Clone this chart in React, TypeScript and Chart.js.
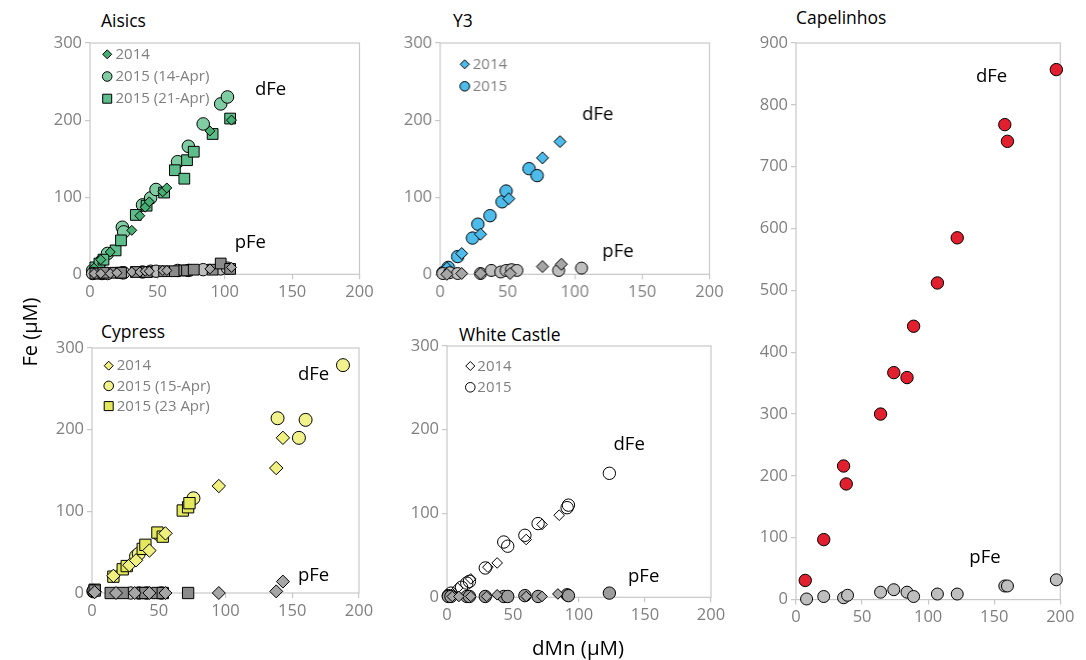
import React, { useEffect, useRef } from "react";
import { Chart, registerables } from "chart.js";
Chart.register(...registerables);

type Pt = [number, number];

// ---------- Aisics ----------
const aisicsDFe2014: Pt[] = [[3, 8], [8, 19], [15, 29], [31, 57], [37, 76], [41, 87], [44, 94], [54, 107], [57, 112], [89, 186], [105, 200]];
const aisicsDFe2015a: Pt[] = [[2, 5], [9, 18], [13, 27], [24, 61], [25, 55], [39, 90], [45, 99], [49, 110], [65, 146], [73, 166], [84, 195], [97, 221], [102, 230]];
const aisicsDFe2015b: Pt[] = [[4, 9], [7, 14], [10, 19], [19, 31], [23, 44], [34, 77], [42, 89], [55, 106], [63, 135], [70, 124], [72, 148], [77, 159], [91, 182], [104, 202]];
const aisicsPFe2014: Pt[] = [[3, 1], [8, 1], [15, 1], [20, 2], [31, 3], [37, 3], [41, 4], [44, 4], [54, 5], [57, 5], [89, 7], [105, 9]];
const aisicsPFe2015a: Pt[] = [[2, 1], [9, 1], [13, 1], [24, 2], [25, 2], [39, 3], [45, 4], [49, 4], [65, 5], [73, 5], [84, 6], [97, 7], [102, 8]];
const aisicsPFe2015b: Pt[] = [[4, 1], [7, 1], [10, 2], [19, 2], [23, 2], [34, 3], [42, 3], [55, 4], [63, 4], [70, 5], [72, 5], [77, 6], [91, 6], [97, 14], [104, 7]];

// ---------- Y3 ----------
const y3DFe2014: Pt[] = [[3, 3], [5, 8], [16, 27], [30, 52], [51, 98], [76, 151], [89, 172]];
const y3DFe2015: Pt[] = [[2, 2], [6, 9], [13, 23], [24, 47], [28, 65], [37, 76], [46, 94], [49, 108], [66, 137], [72, 128]];
const y3PFe2014: Pt[] = [[5, 0], [16, 1], [30, 1], [52, 1], [76, 10], [90, 13]];
const y3PFe2015: Pt[] = [[2, 1], [7, 2], [13, 1], [30, 1], [38, 5], [45, 3], [49, 5], [53, 6], [57, 5], [88, 5], [105, 8]];

// ---------- Capelinhos ----------
const capDFe: Pt[] = [[7, 31], [21, 97], [36, 216], [38, 187], [64, 300], [74, 367], [84, 359], [89, 442], [107, 512], [122, 585], [158, 768], [160, 741], [197, 857]];
const capPFe: Pt[] = [[8, 1], [21, 5], [36, 3], [39, 7], [64, 12], [74, 16], [84, 12], [89, 5], [107, 9], [122, 9], [158, 22], [160, 22], [197, 32]];

// ---------- Cypress ----------
const cypDFe2014: Pt[] = [[2, 2], [16, 21], [28, 34], [33, 40], [43, 52], [55, 73], [95, 131], [138, 153], [143, 190]];
const cypDFe2015a: Pt[] = [[1, 2], [33, 45], [35, 48], [50, 72], [76, 116], [139, 214], [155, 190], [160, 212], [188, 279]];
const cypDFe2015b: Pt[] = [[2, 4], [16, 20], [23, 29], [26, 33], [38, 54], [40, 59], [49, 74], [53, 69], [68, 101], [72, 105], [73, 110]];
const cypPFe2014: Pt[] = [[2, 1], [18, 0], [32, 0], [43, 0], [55, 0], [95, 0], [138, 2], [143, 14]];
const cypPFe2015a: Pt[] = [[1, 3], [29, 0], [35, 0], [41, 0], [52, 0]];
const cypPFe2015b: Pt[] = [[2, 3], [14, 0], [23, 0], [38, 0], [40, 0], [49, 0], [53, 0], [72, 0]];

// ---------- White Castle ----------
const wcDFe2014: Pt[] = [[4, 4], [8, 11], [18, 22], [31, 36], [38, 41], [60, 69], [72, 87], [85, 98]];
const wcDFe2015: Pt[] = [[1, 2], [3, 5], [11, 12], [15, 17], [17, 19], [29, 35], [43, 66], [46, 61], [59, 74], [69, 88], [91, 107], [92, 110], [123, 148]];
const wcPFe2014: Pt[] = [[4, 1], [9, 1], [18, 1], [30, 1], [38, 3], [60, 1], [72, 1], [84, 4]];
const wcPFe2015: Pt[] = [[1, 1], [3, 1], [15, 1], [17, 1], [29, 1], [43, 1], [46, 1], [59, 2], [69, 1], [91, 3], [92, 2], [123, 5]];

const xTicksMax = 200;
const xTickStep = 50;

const FONT = '"Open Sans", "Noto Sans", "DejaVu Sans", sans-serif';
const TICK_COLOR = "#7F7F7F";
const FRAME = "#C8C8C8";

type Shape = "circle" | "rectRot" | "rect";
interface Series { data: Pt[]; shape: Shape; r: number; fill: string }
interface LegendItem { label: string; shape: Shape; r: number; fill: string }
interface Note { text: string; x: number; y: number }
interface PanelCfg {
  title: string; titleX: number; titleY: number;
  L: number; R: number; T: number; B: number;
  yMax: number; yStep: number;
  series: Series[]; notes: Note[];
  legend: LegendItem[]; legX: number; legY: number; legDy: number; legTextX: number;
}

const G_AIS_C = "#80CCA3", G_AIS_S = "#5DBD8B", G_AIS_D = "#45AF74";
const BLUE = "#4DBCEB";
const YEL_C = "#F1F28C", YEL_S = "#E3E85C", YEL_D = "#EFF07E";
const RED = "#E21F2E";
const GR_L = "#BEBEBE", GR_M = "#A6A6A6", GR_D = "#8A8A8A";

const panels: PanelCfg[] = [
  {
    title: "Aisics", titleX: 101, titleY: 20, L: 89.5, R: 359, T: 42.7, B: 274, yMax: 300, yStep: 100,
    series: [
      { data: aisicsPFe2014, shape: "rectRot", r: 5, fill: GR_M },
      { data: aisicsPFe2015b, shape: "rect", r: 7.6, fill: GR_D },
      { data: aisicsPFe2015a, shape: "circle", r: 6.2, fill: GR_L },
      { data: aisicsDFe2014, shape: "rectRot", r: 5, fill: G_AIS_D },
      { data: aisicsDFe2015b, shape: "rect", r: 7.6, fill: G_AIS_S },
      { data: aisicsDFe2015a, shape: "circle", r: 6.3, fill: G_AIS_C },
    ],
    notes: [{ text: "dFe", x: 134, y: 240 }, { text: "pFe", x: 119, y: 41 }],
    legend: [
      { label: "2014", shape: "rectRot", r: 4.5, fill: G_AIS_D },
      { label: "2015 (14-Apr)", shape: "circle", r: 4.8, fill: G_AIS_C },
      { label: "2015 (21-Apr)", shape: "rect", r: 4.5, fill: G_AIS_S },
    ],
    legX: 106.7, legY: 54, legDy: 22.2, legTextX: 115,
  },
  {
    title: "Y3", titleX: 453, titleY: 20, L: 440, R: 708.5, T: 42.7, B: 274, yMax: 300, yStep: 100,
    series: [
      { data: y3PFe2014, shape: "rectRot", r: 6, fill: GR_M },
      { data: y3PFe2015, shape: "circle", r: 6, fill: GR_L },
      { data: y3DFe2014, shape: "rectRot", r: 6, fill: BLUE },
      { data: y3DFe2015, shape: "circle", r: 6.2, fill: BLUE },
    ],
    notes: [{ text: "dFe", x: 117, y: 207 }, { text: "pFe", x: 132, y: 29 }],
    legend: [
      { label: "2014", shape: "rectRot", r: 4.5, fill: BLUE },
      { label: "2015", shape: "circle", r: 4.8, fill: BLUE },
    ],
    legX: 464.5, legY: 64, legDy: 22, legTextX: 472.5,
  },
  {
    title: "Capelinhos", titleX: 796, titleY: 17, L: 795.7, R: 1060, T: 42.7, B: 599.3, yMax: 900, yStep: 100,
    series: [
      { data: capPFe, shape: "circle", r: 6, fill: GR_L },
      { data: capDFe, shape: "circle", r: 6.2, fill: RED },
    ],
    notes: [{ text: "dFe", x: 148, y: 846 }, { text: "pFe", x: 143, y: 67 }],
    legend: [],
    legX: 0, legY: 0, legDy: 0, legTextX: 0,
  },
  {
    title: "Cypress", titleX: 101, titleY: 331, L: 92.3, R: 359.3, T: 348.3, B: 593.3, yMax: 300, yStep: 100,
    series: [
      { data: cypPFe2014, shape: "rectRot", r: 6.5, fill: GR_M },
      { data: cypPFe2015b, shape: "rect", r: 8, fill: GR_D },
      { data: cypPFe2015a, shape: "circle", r: 6.2, fill: GR_L },
      { data: cypDFe2014, shape: "rectRot", r: 6.7, fill: YEL_D },
      { data: cypDFe2015b, shape: "rect", r: 8, fill: YEL_S },
      { data: cypDFe2015a, shape: "circle", r: 6.5, fill: YEL_C },
    ],
    notes: [{ text: "dFe", x: 166, y: 267 }, { text: "pFe", x: 166, y: 21.5 }],
    legend: [
      { label: "2014", shape: "rectRot", r: 4.5, fill: YEL_D },
      { label: "2015 (15-Apr)", shape: "circle", r: 4.8, fill: YEL_C },
      { label: "2015 (23 Apr)", shape: "rect", r: 4.5, fill: YEL_S },
    ],
    legX: 109, legY: 366, legDy: 20.2, legTextX: 117,
  },
  {
    title: "White Castle", titleX: 459, titleY: 334, L: 446.7, R: 710.7, T: 346, B: 597.3, yMax: 300, yStep: 100,
    series: [
      { data: wcPFe2014, shape: "rectRot", r: 5.3, fill: GR_M },
      { data: wcPFe2015, shape: "circle", r: 6.2, fill: "#9C9C9C" },
      { data: wcDFe2014, shape: "rectRot", r: 5.3, fill: "rgba(255,255,255,0)" },
      { data: wcDFe2015, shape: "circle", r: 6.2, fill: "rgba(255,255,255,0)" },
    ],
    notes: [{ text: "dFe", x: 138, y: 182 }, { text: "pFe", x: 149, y: 24.6 }],
    legend: [
      { label: "2014", shape: "rectRot", r: 4.5, fill: "#FFFFFF" },
      { label: "2015", shape: "circle", r: 4.8, fill: "#FFFFFF" },
    ],
    legX: 470, legY: 366, legDy: 21.3, legTextX: 477,
  },
];

const YW = 60, PT = 14, PR = 26, XH = 40;

function drawShape(ctx: CanvasRenderingContext2D, shape: Shape, x: number, y: number, r: number, fill: string) {
  ctx.beginPath();
  if (shape === "circle") ctx.arc(x, y, r, 0, Math.PI * 2);
  else if (shape === "rectRot") {
    ctx.moveTo(x - r, y); ctx.lineTo(x, y - r); ctx.lineTo(x + r, y); ctx.lineTo(x, y + r); ctx.closePath();
  } else ctx.rect(x - r, y - r, 2 * r, 2 * r);
  ctx.fillStyle = fill; ctx.fill();
  ctx.lineWidth = 1; ctx.strokeStyle = "#000"; ctx.stroke();
}

function Panel({ cfg }: { cfg: PanelCfg }) {
  const ref = useRef<HTMLCanvasElement>(null);
  const left = cfg.L - YW, top = cfg.T - PT;
  const width = cfg.R - cfg.L + YW + PR, height = cfg.B - cfg.T + PT + XH;
  useEffect(() => {
    const deco = {
      id: "deco",
      beforeDatasetsDraw(chart: any) {
        const { ctx, chartArea: a } = chart;
        ctx.save();
        ctx.strokeStyle = FRAME; ctx.lineWidth = 1.2;
        ctx.strokeRect(a.left, a.top, a.right - a.left, a.bottom - a.top);
        ctx.restore();
      },
      afterDatasetsDraw(chart: any) {
        const ctx: CanvasRenderingContext2D = chart.ctx;
        const xs = chart.scales.x, ys = chart.scales.y;
        ctx.save();
        ctx.font = `18.5px ${FONT}`; ctx.fillStyle = "#000"; ctx.textAlign = "center"; ctx.textBaseline = "middle";
        cfg.notes.forEach((n) => ctx.fillText(n.text, xs.getPixelForValue(n.x), ys.getPixelForValue(n.y)));
        ctx.font = `15px ${FONT}`; ctx.textAlign = "left";
        cfg.legend.forEach((it, i) => {
          const x = cfg.legX - left, y = cfg.legY - top + i * cfg.legDy;
          drawShape(ctx, it.shape, x, y, it.r, it.fill);
          ctx.fillStyle = "#7F7F7F";
          ctx.fillText(it.label, cfg.legTextX - left, y + 0.5);
        });
        ctx.restore();
      },
    };
    const chart = new Chart(ref.current as HTMLCanvasElement, {
      type: "scatter",
      data: {
        datasets: cfg.series.map((s) => ({
          data: s.data.map(([x, y]) => ({ x, y })),
          pointStyle: s.shape,
          pointRadius: s.r,
          pointHoverRadius: s.r,
          backgroundColor: s.fill,
          borderColor: "#000",
          borderWidth: 1,
          clip: false as any,
        })),
      },
      options: {
        animation: false,
        responsive: true,
        maintainAspectRatio: false,
        events: [],
        layout: { padding: { top: PT, right: PR, left: 0, bottom: 0 } },
        plugins: { legend: { display: false }, tooltip: { enabled: false } },
        scales: {
          x: {
            type: "linear", min: 0, max: xTicksMax,
            ticks: { stepSize: xTickStep, color: TICK_COLOR, font: { size: 16.5, family: FONT }, padding: 3, autoSkip: false, maxRotation: 0 },
            grid: { drawOnChartArea: false, drawTicks: true, tickLength: 5, color: FRAME, lineWidth: 1.2 },
            border: { display: false },
            afterFit: (s: any) => { s.height = XH; },
          },
          y: {
            type: "linear", min: 0, max: cfg.yMax,
            ticks: { stepSize: cfg.yStep, color: TICK_COLOR, font: { size: 16.5, family: FONT }, padding: 3, autoSkip: false },
            grid: { drawOnChartArea: false, drawTicks: true, tickLength: 5, color: FRAME, lineWidth: 1.2 },
            border: { display: false },
            afterFit: (s: any) => { s.width = YW; },
          },
        },
      } as any,
      plugins: [deco],
    });
    return () => chart.destroy();
  }, []);
  return (
    <div style={{ position: "absolute", left, top, width, height }}>
      <canvas ref={ref} />
    </div>
  );
}

export default function App() {
  return (
    <div style={{ position: "absolute", left: 0, top: 0, width: 1086, height: 660, overflow: "hidden", background: "#fff", fontFamily: FONT }}>
      {panels.map((p) => (
        <div key={p.title} style={{ position: "absolute", left: p.titleX, top: p.titleY - 12, lineHeight: "24px", fontSize: 17.5, color: "#000", whiteSpace: "nowrap" }}>
          {p.title}
        </div>
      ))}
      {panels.map((p) => <Panel key={"c" + p.title} cfg={p} />)}
      <div style={{ position: "absolute", left: 30, top: 332, width: 0, height: 0 }}>
        <div style={{ position: "absolute", left: -60, top: -13, width: 120, textAlign: "center", lineHeight: "26px", fontSize: 20, transform: "rotate(-90deg)", whiteSpace: "nowrap" }}>
          Fe (µM)
        </div>
      </div>
      <div style={{ position: "absolute", left: 478, top: 634, width: 200, textAlign: "center", lineHeight: "26px", fontSize: 20.5, whiteSpace: "nowrap" }}>
        dMn (µM)
      </div>
    </div>
  );
}
